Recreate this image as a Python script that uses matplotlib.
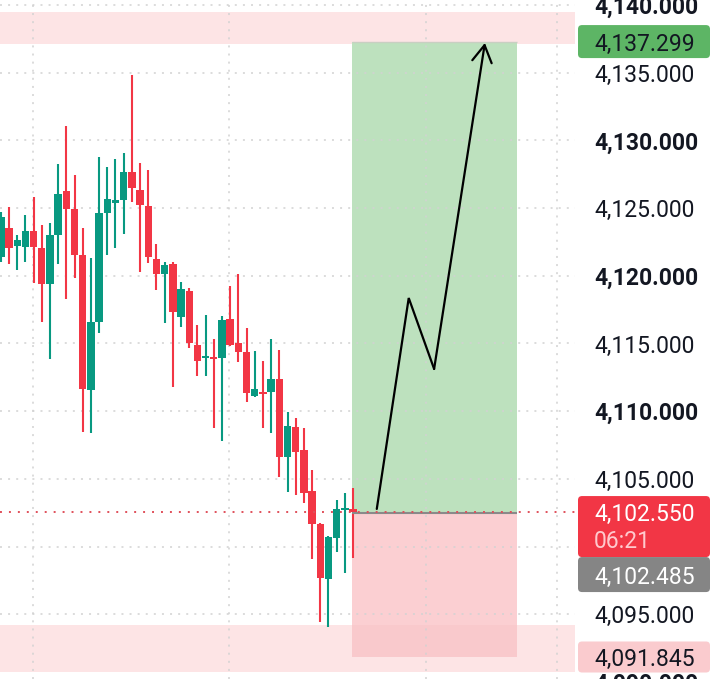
import matplotlib
matplotlib.use("Agg")
import matplotlib.pyplot as plt
from matplotlib.patches import FancyBboxPatch
from matplotlib.transforms import IdentityTransform

# 15m candles, oldest first
opens = [4121.39, 4123.53, 4122.20, 4122.13, 4123.31, 4122.05, 4119.39, 4123.01, 4126.26, 4124.93,
         4121.54, 4111.57, 4116.59, 4124.64, 4125.38, 4125.60, 4127.67, 4126.34, 4125.16, 4121.24,
         4120.13, 4120.87, 4116.96, 4118.88, 4114.89, 4113.93, 4114.00, 4113.93, 4116.81, 4115.04,
         4114.37, 4111.12, 4111.42, 4111.42, 4112.38, 4106.62, 4108.83, 4107.13, 4104.11, 4101.67,
         4097.61, 4100.64, 4102.70, 4102.78]
highs = [4124.71, 4125.08, 4123.01, 4124.49, 4125.82, 4123.75, 4123.90, 4128.26, 4131.06, 4127.44,
         4123.53, 4121.31, 4128.77, 4128.04, 4128.63, 4129.07, 4134.83, 4128.33, 4127.81, 4122.35,
         4121.02, 4121.02, 4119.54, 4119.10, 4116.37, 4117.10, 4115.33, 4117.03, 4119.25, 4120.13,
         4116.14, 4114.45, 4113.71, 4115.33, 4114.52, 4109.94, 4109.50, 4108.76, 4105.66, 4101.74,
         4100.78, 4103.44, 4103.96, 4104.33]
lows = [4121.02, 4120.87, 4120.43, 4121.02, 4119.47, 4116.59, 4113.86, 4120.87, 4118.29, 4119.84,
        4108.46, 4108.39, 4115.78, 4121.54, 4122.05, 4123.09, 4125.45, 4120.28, 4120.95, 4118.95,
        4116.51, 4111.79, 4116.22, 4114.67, 4112.60, 4112.60, 4108.76, 4107.80, 4114.82, 4113.63,
        4110.68, 4111.05, 4108.76, 4108.39, 4105.14, 4104.03, 4103.81, 4103.22, 4099.08, 4094.43,
        4094.06, 4099.60, 4098.05, 4099.16]
closes = [4124.34, 4122.05, 4122.64, 4123.31, 4122.13, 4119.39, 4123.01, 4126.04, 4124.93, 4121.54,
          4111.64, 4116.59, 4124.64, 4125.67, 4125.60, 4127.67, 4126.48, 4125.23, 4121.39, 4120.13,
          4120.80, 4117.33, 4119.03, 4115.04, 4113.71, 4114.08, 4113.86, 4116.74, 4114.89, 4114.37,
          4111.34, 4111.64, 4111.27, 4112.38, 4106.62, 4108.91, 4106.99, 4103.96, 4101.67, 4097.68,
          4100.71, 4102.78, 4102.78, 4102.55]

tick_prices = [4140, 4135, 4130, 4125, 4120, 4115, 4110, 4105, 4100, 4095, 4090]
bold_prices = [4140, 4130, 4120, 4110, 4100, 4090]
hidden_prices = [4100]  # sits under the last price label

# long position tool
entry_price = 4102.485
target_price = 4137.299
stop_price = 4091.845
last_price = 4102.55
countdown = "06:21"
position_start, position_end = 42.9, 63.0

# highlighted price ranges
band_top = (4137.12, 4139.48)
band_bottom = (4090.74, 4094.21)

# hand drawn arrow
arrow_x = [45.9, 49.8, 52.9, 59.1]
arrow_y = [4102.78, 4118.36, 4113.12, 4137.20]

time_grid = [3.95, 27.9, 51.9, 67.9]

UP = '#089981'
DOWN = '#F23645'
GRID = '#d2d2d2'
FONT = 'Roboto'

W, H = 720, 679
fig = plt.figure(figsize=(W / 100, H / 100), dpi=100)
ax = fig.add_axes([0, 0, 575 / W, 1])
ax.set_xlim(-0.1, 70.1)
ax.set_ylim(4090.22, 4140.37)
for s in ax.spines.values():
    s.set_visible(False)
ax.set_xticks([])
ax.set_yticks([])

# grid
dot = (0, (1.3, 4))
for p in tick_prices:
    ax.axhline(p, color=GRID, lw=1.1, ls=dot, zorder=1)
for x in time_grid:
    ax.axvline(x, color=GRID, lw=1.1, ls=dot, zorder=1)

# price bands and position boxes
ax.axhspan(*band_top, color='#FDE4E5', lw=0, zorder=0)
ax.axhspan(*band_bottom, color='#FDE4E5', lw=0, zorder=0)
ax.fill_between([position_start, position_end], entry_price, target_price,
                color='#BDE1BE', lw=0, zorder=0.5)
ax.fill_between([position_start, position_end], stop_price, entry_price,
                color='#FBCFD2', lw=0, zorder=0.5)
ax.fill_between([position_start, position_end], band_bottom[1], stop_price,
                color='#F9C9CC', lw=0, zorder=0.55)
ax.hlines(target_price, position_start, position_end, color='#c9cfc2', lw=1.0, zorder=0.7)
ax.hlines(entry_price, position_start, position_end, color='#8a8a8a', lw=1.5, zorder=2.5)

# candles
min_body = 0.12
for i in range(len(opens)):
    o, h, l, c = opens[i], highs[i], lows[i], closes[i]
    col = UP if c >= o else DOWN
    ax.vlines(i, l, h, color=col, lw=1.5, zorder=2)
    body = max(abs(c - o), min_body)
    ax.bar(i, body, bottom=min(o, c), width=0.9, color=col, lw=0, zorder=2)

# current price line
ax.axhline(last_price, color='#e0505b', lw=1.4, ls=(0, (1, 3.6)), zorder=3)

# arrow
ax.plot(arrow_x[:-1], arrow_y[:-1], color='black', lw=1.6, zorder=4,
        solid_capstyle='round', solid_joinstyle='miter')
ax.annotate('', xy=(arrow_x[-1], arrow_y[-1]), xytext=(arrow_x[-2], arrow_y[-2]),
            arrowprops=dict(arrowstyle='->,head_length=0.55,head_width=0.32',
                            color='black', lw=1.6, shrinkA=0, shrinkB=0,
                            mutation_scale=22),
            zorder=4)

# price scale
text_x = 594 / 575
for p in tick_prices:
    if p in hidden_prices:
        continue
    ax.text(text_x, p, f"{p:,.3f}", transform=ax.get_yaxis_transform(),
            ha='left', va='center_baseline', fontsize=16.5, family=FONT,
            fontweight='bold' if p in bold_prices else 'normal',
            color='#131722', clip_on=False)


def ypx(price):
    return ax.transData.transform((0, price))[1]


def price_box(y_top, y_bottom, fc):
    box = FancyBboxPatch((578, y_bottom), 132, y_top - y_bottom,
                         boxstyle='round,pad=0,rounding_size=4',
                         transform=IdentityTransform(), fc=fc, ec='none')
    fig.patches.append(box)


def box_text(y, s, color):
    fig.text(594, y, s, transform=IdentityTransform(), ha='left',
             va='center_baseline', fontsize=16.5, family=FONT, color=color)


# target label
yt = ypx(target_price)
price_box(yt + 16.5, yt - 16.5, '#5DB565')
box_text(yt, f"{target_price:,.3f}", '#131722')

# last price + countdown
yl = ypx(last_price)
price_box(yl + 16, yl - 45, DOWN)
box_text(yl, f"{last_price:,.3f}", 'white')
box_text(yl - 27, countdown, '#ffc9cd')

# entry label (pushed below the last price label)
price_box(yl - 45, yl - 80, '#858585')
box_text(yl - 62.5, f"{entry_price:,.3f}", 'white')

# stop label
ys = ypx(stop_price)
price_box(ys + 15.5, ys - 15.5, '#FACBCE')
box_text(ys, f"{stop_price:,.3f}", '#131722')

fig.savefig('out.png', dpi=100, facecolor='white')
